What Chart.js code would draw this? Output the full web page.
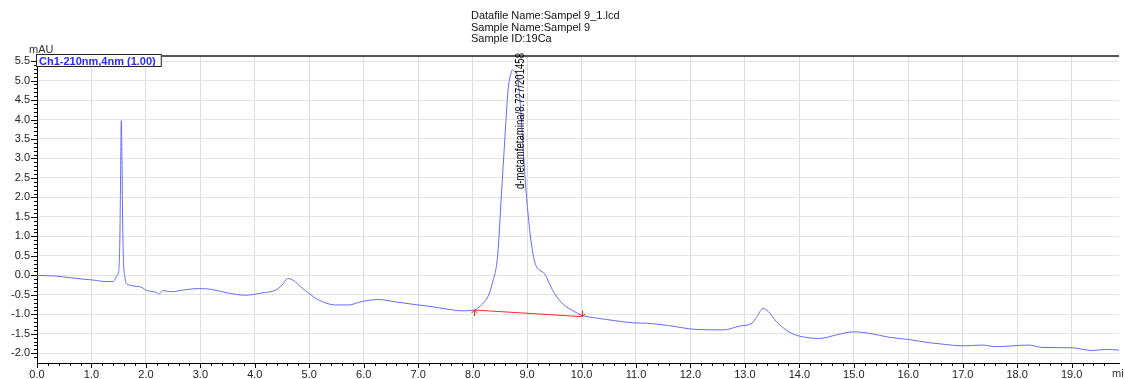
<!DOCTYPE html>
<html>
<head>
<meta charset="utf-8">
<title>Sampel 9 chromatogram</title>
<script src="https://cdn.jsdelivr.net/npm/chart.js@4.4.1/dist/chart.umd.min.js"></script>
<style>
    html, body { margin: 0; padding: 0; background: #fff; }
    #wrap { position: relative; width: 1124px; height: 379px; }
</style>
</head>
<body>
<div id="wrap"><canvas id="chromatogram" width="1124" height="379"></canvas></div>
<script>
// detector trace, Ch1 210 nm (time in min, signal in mAU)
const retentionTime = [
    0.00, 0.20, 0.36, 0.55, 0.79, 1.03, 1.27, 1.40, 1.44, 1.47,
    1.50, 1.52, 1.535, 1.548, 1.56, 1.575, 1.59, 1.61, 1.64, 1.70,
    1.80, 1.88, 1.95, 2.00, 2.13, 2.20, 2.24, 2.27, 2.31, 2.40,
    2.49, 2.67, 2.98, 3.20, 3.53, 3.83, 4.14, 4.38, 4.50, 4.61,
    4.72, 4.84, 4.99, 5.17, 5.48, 5.72, 5.97, 6.27, 6.58, 6.94,
    7.18, 7.55, 7.79, 8.03, 8.16, 8.28, 8.36, 8.46, 8.53, 8.59,
    8.65, 8.71, 8.727, 8.78, 8.83, 8.88, 8.93, 8.98, 9.03, 9.08,
    9.13, 9.18, 9.24, 9.30, 9.34, 9.38, 9.50, 9.68, 9.87, 9.99,
    10.29, 10.60, 10.96, 11.21, 11.60, 12.12, 12.61, 12.91, 13.13, 13.22,
    13.33, 13.43, 13.58, 13.83, 14.07, 14.37, 14.68, 14.99, 15.29, 15.65,
    16.02, 16.39, 16.66, 17.00, 17.36, 17.60, 18.21, 18.46, 19.01, 19.38,
    19.62, 19.87
];
const absorbance = [
    0.00, -0.01, -0.02, -0.05, -0.09, -0.12, -0.16, -0.16, -0.08, 0.00,
    0.10, 0.80, 2.50, 3.97, 3.00, 1.20, 0.30, 0.00, -0.21, -0.25,
    -0.28, -0.29, -0.33, -0.38, -0.42, -0.44, -0.48, -0.44, -0.39, -0.41,
    -0.42, -0.38, -0.34, -0.36, -0.46, -0.51, -0.45, -0.38, -0.25, -0.08,
    -0.14, -0.29, -0.46, -0.63, -0.76, -0.76, -0.67, -0.62, -0.68, -0.75,
    -0.79, -0.87, -0.91, -0.89, -0.76, -0.55, -0.21, 0.52, 2.10, 3.47,
    4.75, 5.22, 5.27, 5.22, 5.05, 4.30, 3.20, 2.19, 1.40, 0.80,
    0.40, 0.20, 0.12, 0.07, 0.00, -0.12, -0.46, -0.76, -0.93, -1.02,
    -1.10, -1.16, -1.22, -1.23, -1.29, -1.39, -1.40, -1.30, -1.23, -1.06,
    -0.85, -0.93, -1.19, -1.47, -1.58, -1.62, -1.53, -1.45, -1.49, -1.59,
    -1.65, -1.73, -1.77, -1.81, -1.79, -1.83, -1.79, -1.85, -1.86, -1.93,
    -1.90, -1.92
];

// integration baseline under the main peak
const baselineTime = [8.03, 10.0];
const baselineAbs = [-0.89, -1.06];

const peakTime = 8.727;
const peakLabel = `d-metamfetamina/8.727/201458`;

const headerLines = [
    `Datafile Name:Sampel 9_1.lcd`,
    `Sample Name:Sampel 9`,
    `Sample ID:19Ca`
];
const channelLabel = `Ch1-210nm,4nm (1.00)`;
const yUnit = `mAU`;
const xUnit = `min`;

const xRange = [0, 19.87];
const yRange = [-2.25, 5.63];

const fontFamily = `"Liberation Sans", Arial, sans-serif`;
Chart.defaults.font.family = fontFamily;
Chart.defaults.font.size = 11;
Chart.defaults.color = `#222`;

const isMultiple = (value, step) => Math.abs(value / step - Math.round(value / step)) < 1e-6;

// tick marks, frame, header, legend box and peak annotation
const decorations = {
    id: `decorations`,
    afterDraw(chart) {
        const ctx = chart.ctx;
        const area = chart.chartArea;
        const xScale = chart.scales.x;
        const yScale = chart.scales.y;

        ctx.save();

        // top frame
        ctx.strokeStyle = `#555`;
        ctx.lineWidth = 2;
        ctx.beginPath();
        ctx.moveTo(area.left, area.top);
        ctx.lineTo(area.right, area.top);
        ctx.stroke();

        // major / minor ticks
        ctx.strokeStyle = `#000`;
        ctx.lineWidth = 1;
        ctx.beginPath();
        xScale.ticks.forEach(tick => {
            if (!isMultiple(tick.value, 0.2)) return;
            const px = Math.round(xScale.getPixelForValue(tick.value)) + 0.5;
            const len = isMultiple(tick.value, 1) ? 5 : 3;
            ctx.moveTo(px, area.bottom);
            ctx.lineTo(px, area.bottom + len);
        });
        yScale.ticks.forEach(tick => {
            if (!isMultiple(tick.value, 0.1)) return;
            const py = Math.round(yScale.getPixelForValue(tick.value)) + 0.5;
            const len = isMultiple(tick.value, 0.5) ? 6 : 3;
            ctx.moveTo(area.left - len, py);
            ctx.lineTo(area.left, py);
        });
        ctx.stroke();

        // baseline end markers
        ctx.strokeStyle = `#ff2020`;
        ctx.beginPath();
        baselineTime.forEach((t, i) => {
            const px = Math.round(xScale.getPixelForValue(t)) + 0.5;
            const py = yScale.getPixelForValue(baselineAbs[i]);
            const dir = i === 0 ? 1 : -1;
            ctx.moveTo(px, py);
            ctx.lineTo(px, py + dir * 6);
            ctx.moveTo(px - 3, py + dir * 3);
            ctx.lineTo(px, py);
            ctx.lineTo(px + 3, py + dir * 3);
        });
        ctx.stroke();

        // header
        ctx.fillStyle = `#111`;
        ctx.font = `11px ${fontFamily}`;
        ctx.textAlign = `left`;
        ctx.textBaseline = `alphabetic`;
        headerLines.forEach((line, i) => {
            ctx.fillText(line, 471, 19 + i * 11.5);
        });

        // axis units
        ctx.fillStyle = `#333`;
        ctx.fillText(yUnit, 29, 53);
        ctx.fillText(xUnit, 1112, 377);

        // channel legend box
        ctx.font = `bold 11px ${fontFamily}`;
        const boxW = ctx.measureText(channelLabel).width + 8;
        ctx.fillStyle = `#fff`;
        ctx.fillRect(area.left, area.top - 1, boxW, 11);
        ctx.strokeStyle = `#222`;
        ctx.lineWidth = 1;
        ctx.strokeRect(area.left - 0.5, area.top - 1.5, boxW, 12);
        ctx.fillStyle = `#2a2aff`;
        ctx.fillText(channelLabel, area.left + 2, area.top + 8.5);

        // peak annotation, rotated
        ctx.translate(xScale.getPixelForValue(peakTime) + 2.5, area.top - 3);
        ctx.rotate(-Math.PI / 2);
        ctx.scale(0.8, 1);
        ctx.font = `12px ${fontFamily}`;
        ctx.fillStyle = `#000`;
        ctx.textAlign = `right`;
        ctx.textBaseline = `top`;
        ctx.fillText(peakLabel, 0, 0);

        ctx.restore();
    }
};

const ctx = document.getElementById(`chromatogram`).getContext(`2d`);

const chart = new Chart(ctx, {
    type: `scatter`,
    data: {
        datasets: [{
            label: channelLabel,
            data: retentionTime.map((t, i) => ({ x: t, y: absorbance[i] })),
            showLine: true,
            borderColor: `rgb(105, 105, 255)`,
            borderWidth: 1,
            pointRadius: 0,
            cubicInterpolationMode: `monotone`
        }, {
            label: `baseline`,
            data: baselineTime.map((t, i) => ({ x: t, y: baselineAbs[i] })),
            showLine: true,
            borderColor: `rgb(255, 40, 40)`,
            borderWidth: 1,
            pointRadius: 0
        }]
    },
    options: {
        responsive: false,
        animation: false,
        devicePixelRatio: 1,
        layout: { padding: { top: 56, right: 0, bottom: 0, left: 0 } },
        plugins: {
            legend: { display: false },
            tooltip: { enabled: false }
        },
        scales: {
            x: {
                type: `linear`,
                min: xRange[0],
                max: xRange[1],
                afterFit: scale => { scale.height = 16; },
                border: { display: true, color: `#000`, width: 1 },
                grid: {
                    drawTicks: false,
                    color: c => isMultiple(c.tick.value, 1) && c.tick.value > 0 ? `#dcdcdc` : `rgba(0,0,0,0)`
                },
                ticks: {
                    stepSize: 0.2,
                    autoSkip: false,
                    maxRotation: 0,
                    padding: 5,
                    color: `#222`,
                    callback: value => isMultiple(value, 1) ? value.toFixed(1) : ``
                }
            },
            y: {
                type: `linear`,
                min: yRange[0],
                max: yRange[1],
                afterFit: scale => { scale.width = 37; },
                border: { display: true, color: `#000`, width: 1 },
                grid: {
                    drawTicks: false,
                    color: c => isMultiple(c.tick.value, 0.5) ? `#e4e4e4` : `rgba(0,0,0,0)`
                },
                ticks: {
                    stepSize: 0.1,
                    autoSkip: false,
                    padding: 7,
                    color: `#222`,
                    callback: value => isMultiple(value, 0.5) ? value.toFixed(1) : ``
                }
            }
        }
    },
    plugins: [decorations]
});
</script>
</body>
</html>
